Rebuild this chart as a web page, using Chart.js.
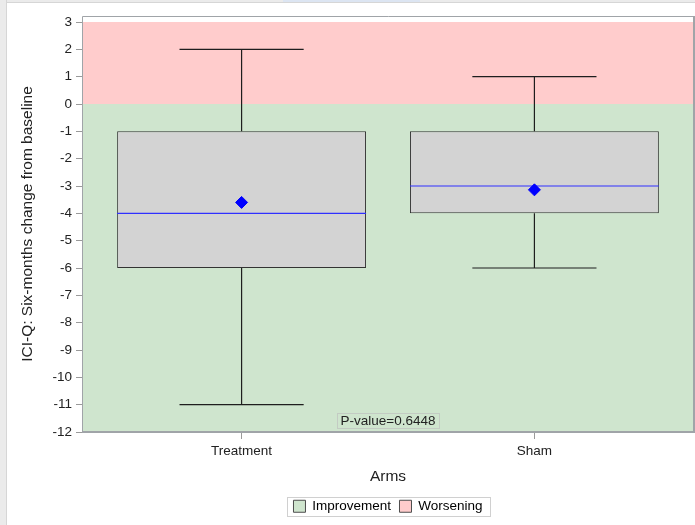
<!DOCTYPE html>
<html>
<head>
<meta charset="utf-8">
<title>ICI-Q six-month change by arm</title>
<script src="https://cdn.jsdelivr.net/npm/chart.js@4"></script>
<style>
  html, body { margin: 0; padding: 0; background: #fff; }
  #wrap { position: relative; width: 695px; height: 525px; overflow: hidden; background: #fff; }
  #topbar { position: absolute; left: 0; top: 0; width: 695px; height: 2px; background: #ebebeb; border-bottom: 1px solid #d6d6d6; }
  #tab { position: absolute; left: 283px; top: 0; width: 137px; height: 2px; background: #dce5f2; }
  #side { position: absolute; left: 0; top: 0; width: 6px; height: 525px; background: #ebebeb; border-right: 1px solid #d6d6d6; }
  #holder { position: absolute; left: 7px; top: 3px; width: 694px; height: 522px; }
  canvas { display: block; }
</style>
</head>
<body>
<div id="wrap">
  <div id="topbar"></div>
  <div id="tab"></div>
  <div id="side"></div>
  <div id="holder"><canvas id="c" width="694" height="522" style="width:694px;height:522px"></canvas></div>
</div>
<script>
// Box-plot summary per study arm
const arms        = ['Treatment', 'Sham'];
const whiskerLow  = [-11, -6];
const q1          = [-6, -4];
const medians     = [-4, -3];
const q3          = [-1, -1];
const whiskerHigh = [2, 1];
const means       = [-3.6, -3.14];

// Y axis tick values
const yTicks = [-12, -11, -10, -9, -8, -7, -6, -5, -4, -3, -2, -1, 0, 1, 2, 3];

// Shaded background regions
const bandNames  = ['Improvement', 'Worsening'];
const bandFrom   = [-12, 0];
const bandTo     = [0, 3];
const bandColors = ['#cfe5ce', '#ffcccc'];

const pValueText = 'P-value=0.6448';

// Geometry in x-axis units (arm spacing = 1)
const BOX_HALF = 0.425;
const CAP_HALF = 0.212;

Chart.defaults.font.family = "'Liberation Sans', Arial, Helvetica, sans-serif";
Chart.defaults.font.size = 13.5;
Chart.defaults.color = '#222';

// Turn [x1, y1, x2, y2] segments into one broken polyline
function segments(list) {
  const out = [];
  list.forEach(([x1, y1, x2, y2]) => {
    out.push({ x: x1, y: y1 }, { x: x2, y: y2 }, { x: x2, y: null });
  });
  return out;
}

const whiskerSegs = [];
const medianSegs = [];
arms.forEach((_, i) => {
  whiskerSegs.push(
    [i, q3[i], i, whiskerHigh[i]],
    [i - CAP_HALF, whiskerHigh[i], i + CAP_HALF, whiskerHigh[i]],
    [i, q1[i], i, whiskerLow[i]],
    [i - CAP_HALF, whiskerLow[i], i + CAP_HALF, whiskerLow[i]]
  );
  medianSegs.push([i - BOX_HALF, medians[i], i + BOX_HALF, medians[i]]);
});

// Background bands behind the boxes
const bandsPlugin = {
  id: 'bands',
  beforeDatasetsDraw(chart) {
    const { ctx, chartArea: a, scales: { y } } = chart;
    ctx.save();
    ctx.beginPath();
    ctx.rect(a.left, a.top, a.width, a.height);
    ctx.clip();
    bandNames.forEach((_, i) => {
      const top = y.getPixelForValue(bandTo[i]);
      const bot = y.getPixelForValue(bandFrom[i]);
      ctx.fillStyle = bandColors[i];
      ctx.fillRect(a.left, top, a.width, bot - top);
    });
    ctx.restore();
  }
};

// Plot frame and p-value inset
const framePlugin = {
  id: 'frame',
  afterDatasetsDraw(chart) {
    const { ctx, chartArea: a } = chart;
    ctx.save();
    ctx.strokeStyle = '#a0a4a8';
    ctx.lineWidth = 1;
    ctx.beginPath();
    ctx.moveTo(a.left + 0.5, a.bottom);
    ctx.lineTo(a.left + 0.5, a.top + 0.5);
    ctx.lineTo(a.right, a.top + 0.5);
    ctx.stroke();
    ctx.lineWidth = 2;
    ctx.beginPath();
    ctx.moveTo(a.right, a.top);
    ctx.lineTo(a.right, a.bottom);
    ctx.lineTo(a.left, a.bottom);
    ctx.stroke();

    ctx.font = "13.5px 'Liberation Sans', Arial, sans-serif";
    const w = ctx.measureText(pValueText).width + 7;
    const h = 15;
    const cx = (a.left + a.right) / 2;
    const cy = a.bottom - 11.3;
    ctx.fillStyle = bandColors[0];
    ctx.fillRect(cx - w / 2, cy - h / 2, w, h);
    ctx.lineWidth = 1;
    ctx.strokeStyle = '#c3cbc3';
    ctx.strokeRect(Math.round(cx - w / 2) + 0.5, Math.round(cy - h / 2) + 0.5, Math.round(w), Math.round(h));
    ctx.fillStyle = '#222';
    ctx.textAlign = 'center';
    ctx.textBaseline = 'middle';
    ctx.fillText(pValueText, cx, cy + 0.5);
    ctx.restore();
  }
};

// Centre the legend under the plot area and frame it
const legendPlugin = {
  id: 'legendFrame',
  afterLayout(chart) {
    const l = chart.legend, a = chart.chartArea;
    if (!l) return;
    const d = (a.left + a.right) / 2 - (l.left + l.right) / 2;
    l.left += d;
    l.right += d;
  },
  afterDraw(chart) {
    const hb = chart.legend && chart.legend.legendHitBoxes;
    if (!hb || !hb.length) return;
    const first = hb[0], last = hb[hb.length - 1];
    const x1 = Math.round(first.left - 6) + 0.5;
    const x2 = Math.round(last.left + last.width + 7) + 0.5;
    const y1 = Math.round(first.top - 3) + 0.5;
    const y2 = Math.round(first.top + first.height + 3) + 0.5;
    const ctx = chart.ctx;
    ctx.save();
    ctx.strokeStyle = '#d0d0d0';
    ctx.lineWidth = 1;
    ctx.strokeRect(x1, y1, x2 - x1, y2 - y1);
    ctx.restore();
  }
};

new Chart(document.getElementById('c'), {
  type: 'bar',
  data: {
    datasets: [
      {
        type: 'line',
        label: 'Mean',
        data: arms.map((_, i) => ({ x: i, y: means[i] })),
        showLine: false,
        pointStyle: 'rectRot',
        pointRadius: 6,
        pointBackgroundColor: '#0000ff',
        pointBorderColor: '#0000ff',
        pointBorderWidth: 1,
        order: 0
      },
      {
        type: 'line',
        label: 'Median',
        data: segments(medianSegs),
        borderColor: '#3030ff',
        borderWidth: 1.2,
        pointRadius: 0,
        spanGaps: false,
        order: 1
      },
      {
        type: 'bar',
        label: 'IQR',
        data: arms.map((_, i) => ({ x: i, y: [q1[i], q3[i]] })),
        backgroundColor: '#d3d3d3',
        borderColor: '#333',
        borderWidth: 1,
        borderSkipped: false,
        barPercentage: 0.85,
        categoryPercentage: 1,
        order: 2
      },
      {
        type: 'line',
        label: 'Whiskers',
        data: segments(whiskerSegs),
        borderColor: '#1e1e1e',
        borderWidth: 1.2,
        pointRadius: 0,
        spanGaps: false,
        order: 3
      }
    ]
  },
  options: {
    responsive: false,
    animation: false,
    devicePixelRatio: 1,
    layout: { padding: { top: 13, right: 1, left: 0, bottom: 2 } },
    plugins: {
      tooltip: { enabled: false },
      legend: {
        position: 'bottom',
        onClick: null,
        labels: {
          boxWidth: 12,
          boxHeight: 12,
          padding: 8.5,
          font: { size: 13.5 },
          color: '#222',
          generateLabels: () => bandNames.map((n, i) => ({
            text: n,
            fillStyle: bandColors[i],
            strokeStyle: '#4d4d4d',
            lineWidth: 1,
            hidden: false
          }))
        }
      }
    },
    scales: {
      x: {
        type: 'linear',
        min: -0.545,
        max: 1.545,
        offset: false,
        afterBuildTicks: s => { s.ticks = arms.map((_, i) => ({ value: i })); },
        afterFit: s => { s.height = 59; s.paddingLeft = 0; s.paddingRight = 0; },
        ticks: {
          callback: v => arms[v],
          font: { size: 13.5 },
          color: '#222',
          padding: 4.6,
          maxRotation: 0,
          autoSkip: false
        },
        grid: { offset: false, drawOnChartArea: false, drawTicks: true, tickLength: 7, color: '#9a9a9a' },
        border: { display: false },
        title: {
          display: true,
          text: 'Arms',
          font: { size: 15.5 },
          color: '#222',
          padding: { top: 0, bottom: 5 }
        }
      },
      y: {
        type: 'linear',
        min: -12,
        max: 3.22,
        afterBuildTicks: s => { s.ticks = yTicks.map(v => ({ value: v })); },
        afterFit: s => { s.width = 75; },
        ticks: {
          callback: v => String(v),
          font: { size: 13.5 },
          color: '#222',
          padding: 4
        },
        grid: { drawOnChartArea: false, drawTicks: true, tickLength: 6, color: '#9a9a9a' },
        border: { display: false },
        title: {
          display: true,
          text: 'ICI-Q: Six-months change from baseline',
          font: { size: 15.5 },
          color: '#222',
          padding: { top: 11, bottom: 0 }
        }
      }
    }
  },
  plugins: [bandsPlugin, framePlugin, legendPlugin]
});
</script>
</body>
</html>
